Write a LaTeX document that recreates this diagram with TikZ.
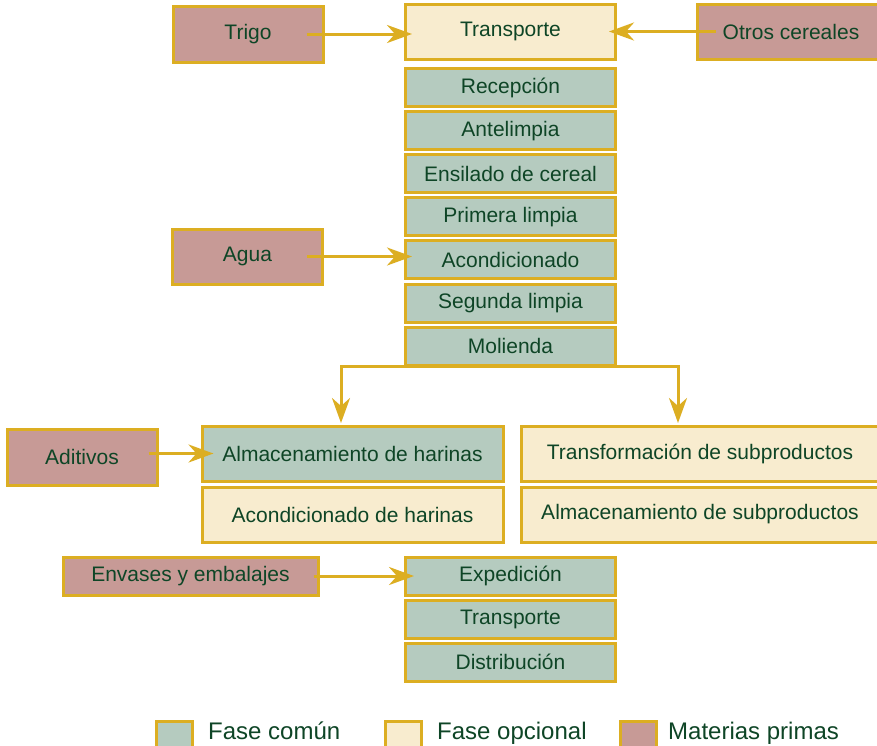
\documentclass[tikz,border=0pt]{standalone}
\usepackage{fontspec}
\setmainfont{Liberation Sans}
\usetikzlibrary{arrows.meta}
\definecolor{gold}{HTML}{DCAE22}
\definecolor{fcommon}{HTML}{B5CBBF}
\definecolor{fopt}{HTML}{F8ECCF}
\definecolor{fraw}{HTML}{C79A96}
\definecolor{txt}{HTML}{0E4526}
\begin{document}
\begin{tikzpicture}[x=1pt,y=-1pt,
  box/.style={draw=gold, line width=3pt, text=txt, inner sep=0pt,
    font=\fontsize{21}{25}\selectfont, minimum height=38pt},
  common/.style={box, fill=fcommon},
  opt/.style={box, fill=fopt},
  raw/.style={box, fill=fraw},
  arr/.style={draw=gold, line width=3pt, -{Stealth[length=25pt,width=18pt,inset=8pt]}},
  legsq/.style={draw=gold, line width=3pt},
  legtxt/.style={text=txt, font=\fontsize{24}{28}\selectfont, anchor=base west, inner sep=0pt}]
\clip (0,0) rectangle (877,745);
\fill[white] (0,0) rectangle (877,745);

% main column
\node[opt, minimum width=210pt, minimum height=55pt] (transp0) at (510.5,31.5) {Transporte};
\node[common, minimum width=210pt] (recep) at (510.5,87.5) {Recepción};
\node[common, minimum width=210pt] (antel) at (510.5,130.6) {Antelimpia};
\node[common, minimum width=210pt] (ensil) at (510.5,173.7) {Ensilado de cereal};
\node[common, minimum width=210pt] (prim) at (510.5,216.8) {Primera limpia};
\node[common, minimum width=210pt] (acond) at (510.5,259.9) {Acondicionado};
\node[common, minimum width=210pt] (segun) at (510.5,303) {Segunda limpia};
\node[common, minimum width=210pt] (molie) at (510.5,346.3) {Molienda};

% raw materials
\node[raw, minimum width=150pt, minimum height=56pt] (trigo) at (248,34) {Trigo};
\node[raw, minimum width=188pt, minimum height=55pt] (otros) at (791,31.5) {Otros cereales};
\node[raw, minimum width=150pt, minimum height=55pt] (agua) at (247.5,256.5) {Agua};
\node[raw, minimum width=150pt, minimum height=56pt] (aditivos) at (82,457) {Aditivos};
\node[raw, minimum width=255pt] (envases) at (190.5,576) {Envases y embalajes};

% branches
\node[common, minimum width=301pt, minimum height=55pt] (almh) at (352.5,453.5) {Almacenamiento de harinas};
\node[opt, minimum width=301pt, minimum height=55pt] (acondh) at (352.5,514.5) {Acondicionado de harinas};
\node[opt, minimum width=358pt, minimum height=55pt] (transf) at (700,453.5) {Transformación de subproductos};
\node[opt, minimum width=358pt, minimum height=55pt] (almsub) at (700,514.5) {Almacenamiento de subproductos};

% final column
\node[common, minimum width=210pt] (exped) at (510.5,576) {Expedición};
\node[common, minimum width=210pt] (transp2) at (510.5,619) {Transporte};
\node[common, minimum width=210pt] (distr) at (510.5,662) {Distribución};

% connectors
\path (trigo.east -| transp0.west) coordinate (t1);
\draw[arr] ([xshift=-18pt]trigo.east) -- ([xshift=8pt]t1);
\path (otros.west -| transp0.east) coordinate (t2);
\draw[arr] ([xshift=20pt]otros.west) -- ([xshift=-8pt]t2);
\path (agua.east -| acond.west) coordinate (t3);
\draw[arr] ([xshift=-17pt]agua.east) -- ([xshift=8pt]t3);
\path (almh.west -| aditivos.east) coordinate (t4);
\draw[arr] ([xshift=-10pt]t4) -- ([xshift=13pt]almh.west);
\draw[arr] ([xshift=-6pt]envases.east) -- ([xshift=10pt]exped.west);
\coordinate (bl) at (341,423);
\coordinate (br) at (678,423);
\draw[arr] (molie.south) -| (bl);
\draw[arr] (molie.south) -| (br);

% legend
\draw[legsq, fill=fcommon] (156,721.5) rectangle (192,757);
\node[legtxt] (lg1) at (208,739) {Fase común};
\draw[legsq, fill=fopt] (385,721.5) rectangle (421,757);
\node[legtxt] (lg2) at (437,739) {Fase opcional};
\draw[legsq, fill=fraw] (620,721.5) rectangle (656,757);
\node[legtxt] (lg3) at (668,739) {Materias primas};
\end{tikzpicture}
\end{document}
